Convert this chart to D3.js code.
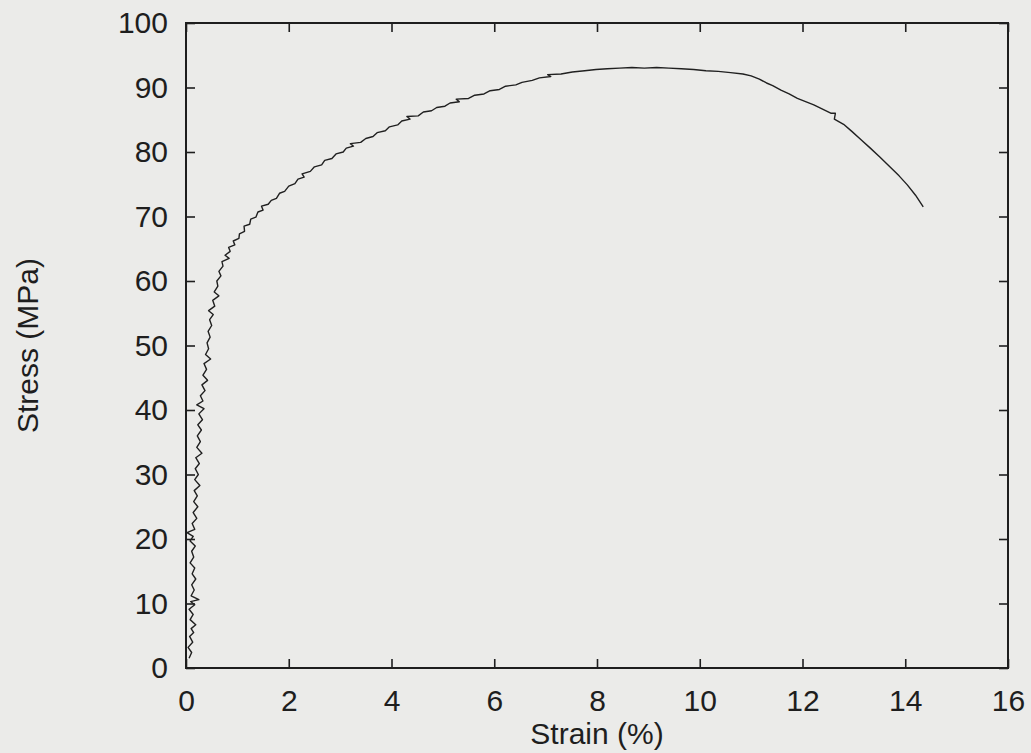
<!DOCTYPE html>
<html>
<head>
<meta charset="utf-8">
<script src="https://cdn.jsdelivr.net/npm/d3@7"></script>
<style>
  body { margin: 0; background: #ebebe9; }
  svg { display: block; }
</style>
</head>
<body>
<svg id="drawing_region"></svg>
<script>
// strain (%) / stress (MPa), row by row
const strain = [
  0.06, 0.11, 0.04, 0.13, 0.07, 0.15, 0.10, 0.19, 0.08, 0.14,
  0.06, 0.17, 0.09, 0.25, 0.10, 0.16, 0.11, 0.19, 0.12, 0.17,
  0.08, 0.15, 0.11, 0.18, 0.08, 0.14, 0.02, 0.17, 0.12, 0.21,
  0.14, 0.23, 0.15, 0.22, 0.16, 0.27, 0.17, 0.24, 0.18, 0.26,
  0.19, 0.31, 0.21, 0.28, 0.22, 0.30, 0.23, 0.32, 0.25, 0.35,
  0.21, 0.33, 0.28, 0.37, 0.31, 0.42, 0.33, 0.40, 0.35, 0.48,
  0.38, 0.44, 0.41, 0.47, 0.43, 0.50, 0.46, 0.53, 0.44, 0.56,
  0.52, 0.64, 0.55, 0.62, 0.60, 0.68, 0.64, 0.72, 0.70, 0.84,
  0.76, 0.86, 0.83, 0.95, 0.92, 1.03, 1.04, 1.14, 1.13, 1.24,
  1.26, 1.36, 1.40, 1.50, 1.47, 1.60, 1.66, 1.76, 1.82, 1.92,
  2.00, 2.12, 2.18, 2.30, 2.26, 2.42, 2.50, 2.64, 2.70, 2.84,
  2.92, 3.06, 3.12, 3.26, 3.20, 3.40, 3.50, 3.64, 3.72, 3.88,
  3.96, 4.12, 4.20, 4.36, 4.30, 4.52, 4.62, 4.78, 4.88, 5.04,
  5.14, 5.32, 5.26, 5.50, 5.62, 5.80, 5.92, 6.10, 6.22, 6.42,
  6.54, 6.74, 6.88, 7.10, 7.04, 7.30, 7.52, 7.76, 7.98, 8.20,
  8.44, 8.68, 8.92, 9.16, 9.40, 9.64, 9.88, 10.12, 10.36, 10.60,
  10.84, 11.00, 11.16, 11.30, 11.42, 11.58, 11.74, 11.90, 12.06, 12.22,
  12.40, 12.56, 12.64, 12.62, 12.80, 12.96, 13.14, 13.32, 13.51, 13.70,
  13.88, 14.04, 14.20, 14.35
];
const stress = [
  1.5, 2.4, 3.2, 4.0, 4.9, 5.5, 6.1, 6.7, 7.5, 8.3,
  9.1, 9.8, 10.3, 10.6, 11.2, 12.1, 12.9, 13.8, 14.6, 15.5,
  16.3, 17.2, 18.1, 18.9, 19.7, 20.4, 21.0, 21.5, 22.4, 23.2,
  24.1, 25.0, 25.8, 26.7, 27.5, 28.3, 29.2, 30.0, 30.9, 31.7,
  32.6, 33.3, 34.2, 35.1, 36.0, 36.9, 37.7, 38.5, 39.4, 40.2,
  40.8, 41.4, 42.2, 43.0, 43.9, 44.6, 45.4, 46.3, 47.2, 47.9,
  48.6, 49.5, 50.4, 51.3, 52.2, 53.1, 54.0, 54.8, 55.4, 56.1,
  57.0, 57.7, 58.3, 59.2, 60.0, 60.8, 61.5, 62.3, 63.0, 63.5,
  64.0, 64.6, 65.2, 65.6, 66.2, 66.6, 67.3, 67.7, 68.5, 68.8,
  69.6, 69.9, 70.7, 71.0, 71.6, 71.9, 72.5, 72.8, 73.6, 73.9,
  74.7, 75.1, 75.8, 76.1, 76.6, 77.0, 77.7, 78.0, 78.7, 79.0,
  79.7, 80.0, 80.6, 80.9, 81.3, 81.5, 82.1, 82.4, 83.0, 83.3,
  83.9, 84.2, 84.8, 85.1, 85.5, 85.6, 86.2, 86.4, 86.9, 87.1,
  87.6, 87.8, 88.2, 88.3, 88.8, 89.0, 89.5, 89.7, 90.2, 90.4,
  90.8, 91.1, 91.5, 91.7, 92.0, 92.1, 92.4, 92.6, 92.8, 92.9,
  93.0, 93.1, 93.0, 93.1, 93.0, 92.9, 92.8, 92.6, 92.5, 92.3,
  92.1, 91.8, 91.3, 90.7, 90.3, 89.6, 89.0, 88.3, 87.8, 87.3,
  86.6, 86.0, 86.0, 85.1, 84.3, 83.2, 81.9, 80.6, 79.2, 77.7,
  76.3, 74.9, 73.3, 71.5
];
const xTicks = [0, 2, 4, 6, 8, 10, 12, 14, 16];
const yTicks = [0, 10, 20, 30, 40, 50, 60, 70, 80, 90, 100];

const config = {
  width: 1031,
  height: 753,
  margin: {top: 23, right: 23, bottom: 85, left: 186}
};

const svg = d3.select('#drawing_region')
  .attr('width', config.width)
  .attr('height', config.height);

const inner_width = config.width - config.margin.left - config.margin.right;
const inner_height = config.height - config.margin.top - config.margin.bottom;

const chart = svg.append('g')
  .attr('transform', `translate(${config.margin.left}, ${config.margin.top})`);

const xscale = d3.scaleLinear().domain([0, 16]).range([0, inner_width]);
const yscale = d3.scaleLinear().domain([0, 100]).range([inner_height, 0]);

const tick = 9;
const ink = '#1e1e1e';
const font = '"Liberation Sans", Arial, Helvetica, sans-serif';

chart.append('g')
  .attr('transform', `translate(0, ${inner_height})`)
  .call(d3.axisBottom(xscale).tickValues(xTicks).tickFormat(d3.format('d'))
    .tickSizeInner(-tick).tickSizeOuter(0).tickPadding(22));
chart.append('g')
  .call(d3.axisTop(xscale).tickValues(xTicks).tickFormat('')
    .tickSizeInner(-tick).tickSizeOuter(0));
chart.append('g')
  .call(d3.axisLeft(yscale).tickValues(yTicks).tickFormat(d3.format('d'))
    .tickSizeInner(-tick).tickSizeOuter(0).tickPadding(18));
chart.append('g')
  .attr('transform', `translate(${inner_width}, 0)`)
  .call(d3.axisRight(yscale).tickValues(yTicks).tickFormat('')
    .tickSizeInner(-tick).tickSizeOuter(0));

chart.selectAll('.domain').remove();
chart.selectAll('.tick line').attr('stroke', ink).attr('stroke-width', 1.6);
chart.selectAll('.tick text')
  .attr('fill', ink)
  .style('font-family', font)
  .style('font-size', '30px');

chart.append('rect')
  .attr('width', inner_width)
  .attr('height', inner_height)
  .attr('fill', 'none')
  .attr('stroke', ink)
  .attr('stroke-width', 2);

const points = strain.map((s, i) => [s, stress[i]]);
const line = d3.line()
  .x(d => xscale(d[0]))
  .y(d => yscale(d[1]));

chart.append('path')
  .datum(points)
  .attr('d', line)
  .attr('fill', 'none')
  .attr('stroke', '#202020')
  .attr('stroke-width', 1.4)
  .attr('stroke-linejoin', 'round');

svg.append('text')
  .attr('x', config.margin.left + inner_width / 2)
  .attr('y', 744)
  .attr('text-anchor', 'middle')
  .attr('fill', ink)
  .style('font-family', font)
  .style('font-size', '30px')
  .text('Strain (%)');

svg.append('text')
  .attr('transform', `translate(38, ${config.margin.top + inner_height / 2}) rotate(-90)`)
  .attr('text-anchor', 'middle')
  .attr('fill', ink)
  .style('font-family', font)
  .style('font-size', '30px')
  .text('Stress (MPa)');
</script>
</body>
</html>
